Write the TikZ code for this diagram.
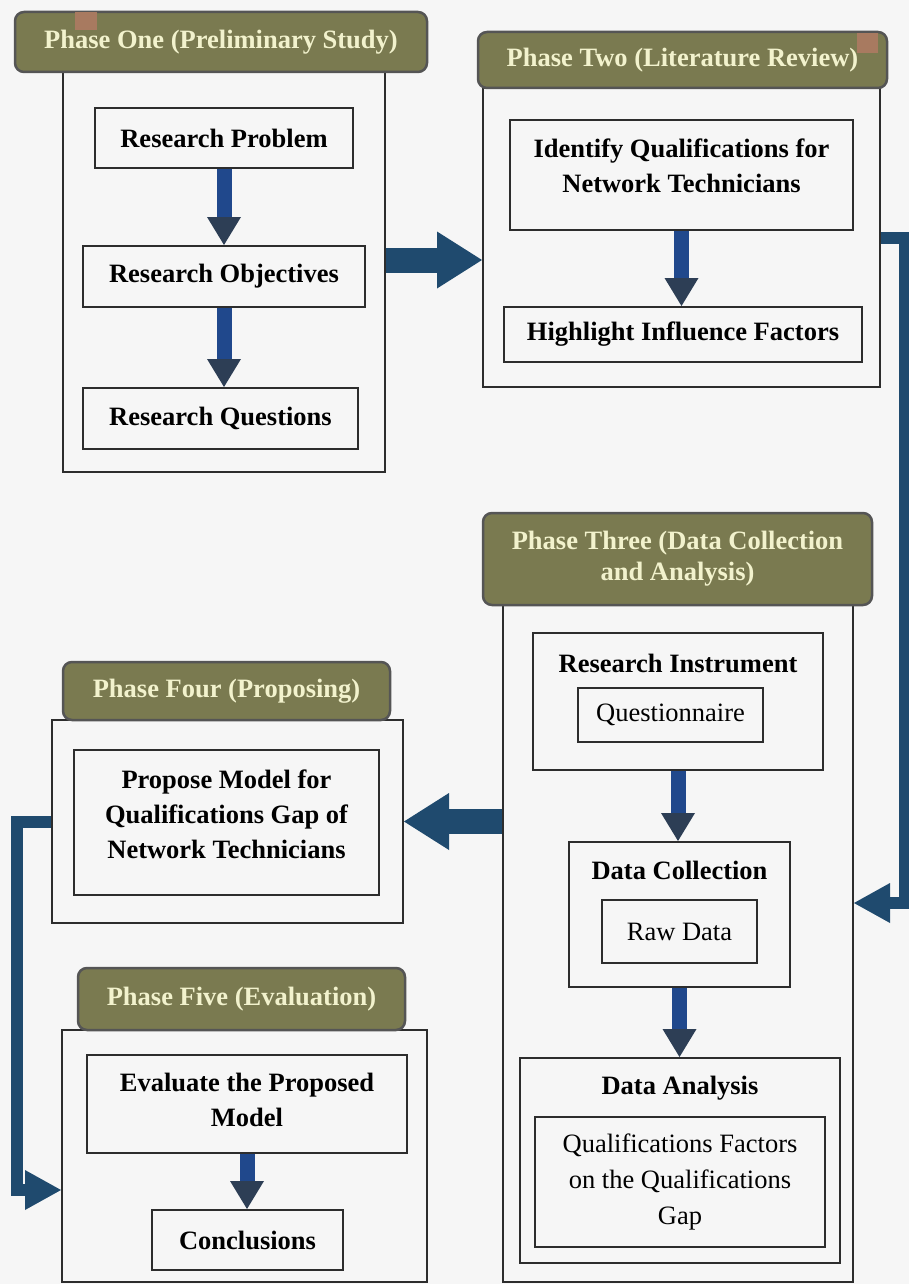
\documentclass[tikz,border=0pt]{standalone}
\usepackage{fontspec}
\setmainfont{Liberation Serif}
\usetikzlibrary{arrows.meta,calc}
\definecolor{bgc}{HTML}{F6F6F6}
\definecolor{olivehd}{RGB}{122,122,80}
\definecolor{hdtext}{RGB}{242,242,205}
\definecolor{hdline}{RGB}{85,85,85}
\definecolor{boxline}{RGB}{45,45,45}
\definecolor{bigblue}{RGB}{31,74,110}
\definecolor{smallblue}{RGB}{32,72,140}
\definecolor{headgray}{RGB}{45,62,85}
\definecolor{tabbrown}{RGB}{168,122,96}
\begin{document}
\begin{tikzpicture}[x=1pt,y=-1pt,
  every node/.style={font=\fontsize{26.5}{35}\selectfont},
  phasebox/.style={draw=boxline, line width=2pt, fill=bgc, inner sep=0pt},
  stepbox/.style={draw=boxline, line width=2pt, fill=bgc, inner sep=0pt, align=center, font=\bfseries\fontsize{26.5}{35}\selectfont},
  plainbox/.style={draw=boxline, line width=2pt, fill=bgc, inner sep=0pt, align=center, font=\fontsize{26.5}{36}\selectfont},
  boldtext/.style={inner sep=0pt, align=center, font=\bfseries\fontsize{26.5}{35}\selectfont},
  phasehd/.style={draw=hdline, line width=2.5pt, fill=olivehd, rounded corners=9pt, text=hdtext, inner sep=0pt, align=center, font=\bfseries\fontsize{26.5}{31}\selectfont},
  smallarrow/.style={draw=smallblue, line width=15pt, -{Triangle[width=34pt,length=28pt,line width=0pt,color=headgray]}},
  bigarrow/.style={draw=bigblue, line width=25pt, -{Triangle[width=57pt,length=45pt,line width=0pt,color=bigblue]}},
  connector/.style={draw=bigblue, line width=12pt, line join=miter, -{Triangle[width=40pt,length=36pt,line width=0pt,color=bigblue]}}
]
\fill[bgc] (0,0) rectangle (909,1284);
\useasboundingbox (0,0) rectangle (909,1284);

% Phase One
\node[phasebox, minimum width=322pt, minimum height=400pt] (p1out) at (224,272) {};
\node[phasehd, minimum width=412pt, minimum height=60pt] (p1hd) at (221,42) {Phase One (Preliminary Study)};
\fill[tabbrown] (75,12) rectangle (97,30);
\node[stepbox, minimum width=258pt, minimum height=60pt] (rp) at (224,138) {Research Problem};
\node[stepbox, minimum width=282pt, minimum height=61pt] (ro) at (224,276.5) {Research Objectives};
\node[stepbox, minimum width=275pt, minimum height=61pt] (rq) at (220.5,418.5) {Research Questions};
\draw[smallarrow] (rp.south) -- (ro.north);
\draw[smallarrow] (ro.south) -- (ro.south |- rq.north);

% Phase Two
\node[phasebox, minimum width=397pt, minimum height=299pt] (p2out) at (681.5,237.5) {};
\node[phasehd, minimum width=409pt, minimum height=56pt] (p2hd) at (682.5,60) {Phase Two (Literature Review)};
\fill[tabbrown] (857,33) rectangle (878,53);
\node[stepbox, minimum width=343pt, minimum height=110pt] (iq) at (681.5,175) {};
\node[boldtext] (iqtxt) at (681.5,165.5) {Identify Qualifications for\\Network Technicians};
\node[stepbox, minimum width=358pt, minimum height=55pt] (hf) at (683,334.5) {Highlight Influence Factors};
\draw[smallarrow] (iq.south) -- (iq.south |- hf.north);

% Phase Three
\node[phasebox, minimum width=350pt, minimum height=677pt] (p3out) at (678,943.5) {};
\node[phasehd, minimum width=389pt, minimum height=92pt] (p3hd) at (677.5,559) {Phase Three (Data Collection\\and Analysis)};
\node[stepbox, minimum width=290pt, minimum height=137pt] (ri) at (678,701.5) {};
\node[boldtext] (ritxt) at (678,663) {Research Instrument};
\node[plainbox, minimum width=185pt, minimum height=54pt] (qu) at (670.5,715) {Questionnaire};
\node[stepbox, minimum width=221pt, minimum height=145pt] (dc) at (679.5,914.5) {};
\node[boldtext] (dctxt) at (679.5,870) {Data Collection};
\node[plainbox, minimum width=155pt, minimum height=63pt] (rd) at (679.5,931.5) {Raw Data};
\node[stepbox, minimum width=320pt, minimum height=205pt] (da) at (680,1160.5) {};
\node[boldtext] (datxt) at (680,1088) {Data Analysis};
\node[plainbox, minimum width=290pt, minimum height=130pt] (qf) at (680,1182) {Qualifications Factors\\on the Qualifications\\Gap};
\draw[smallarrow] (ri.south) -- (ri.south |- dc.north);
\draw[smallarrow] (dc.south) -- (dc.south |- da.north);

% Phase Four
\node[phasebox, minimum width=351pt, minimum height=203pt] (p4out) at (227.5,821.5) {};
\node[phasehd, minimum width=327pt, minimum height=58pt] (p4hd) at (226.5,691) {Phase Four (Proposing)};
\node[stepbox, minimum width=305pt, minimum height=145pt] (pm) at (226.5,822.5) {};
\node[boldtext] (pmtxt) at (226.5,814) {Propose Model for\\Qualifications Gap of\\Network Technicians};

% Phase Five
\node[phasebox, minimum width=365pt, minimum height=252pt] (p5out) at (244.5,1156) {};
\node[phasehd, minimum width=327pt, minimum height=62pt] (p5hd) at (241.5,999) {Phase Five (Evaluation)};
\node[stepbox, minimum width=320pt, minimum height=98pt] (ev) at (247,1104) {};
\node[boldtext] (evtxt) at (247,1100) {Evaluate the Proposed\\Model};
\node[stepbox, minimum width=191pt, minimum height=60pt] (co) at (247.5,1240) {Conclusions};
\draw[smallarrow] (ev.south) -- (ev.south |- co.north);

% Phase-to-phase arrows
\coordinate (a1) at (0,260);
\draw[bigarrow] (p1out.east |- a1) -- (p2out.west |- a1);
\draw[bigarrow] (p3out.west |- p4out.east) -- (p4out.east);

\coordinate (r1) at (905,903);
\draw[connector] (p2out.east) -| (r1) -- (r1 -| p3out.east);
\coordinate (l1) at (17,1190);
\draw[connector] (p4out.west) -| (l1) -- (l1 -| p5out.west);
\end{tikzpicture}
\end{document}
